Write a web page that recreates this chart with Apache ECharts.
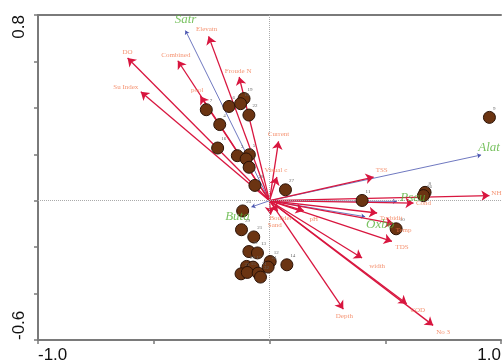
<!DOCTYPE html>
<html>
<head>
<meta charset="utf-8">
<script src="https://cdn.jsdelivr.net/npm/echarts@6/dist/echarts.min.js"></script>
<style>
  html, body { margin: 0; padding: 0; background: #fff; }
  #chart { width: 504px; height: 364px; }
</style>
</head>
<body>
<div id="chart"></div>
<script>
// environmental variables (arrow tips)
var envNames = ['DO', 'Su Index', 'Combined', 'Elevatn', 'Froude N', 'pool', 'Current', 'Visual c', 'TSS', 'NH', 'Cond',
  'Turbidit', 'Temp', 'TDS', 'width', 'pH', 'COD', 'No 3', 'Depth', 'Boulder', 'Sand'];
var envX = [-0.613, -0.556, -0.396, -0.263, -0.131, -0.299, 0.039, 0.032, 0.450, 0.950, 0.622,
  0.465, 0.536, 0.529, 0.400, 0.148, 0.593, 0.707, 0.319, 0.005, 0.036];
var envY = [0.615, 0.469, 0.603, 0.708, 0.533, 0.450, 0.256, 0.102, 0.102, 0.022, -0.010,
  -0.053, -0.099, -0.175, -0.247, -0.043, -0.444, -0.537, -0.467, -0.060, -0.046];

// species (blue arrows)
var spNames = ['Satr', 'Alat', 'Pseu', 'Oxbo', 'Buta'];
var spX = [-0.363, 0.914, 0.550, 0.413, -0.078];
var spY = [0.733, 0.197, -0.003, -0.069, -0.027];

// sites
var siteIds = ['7', '6', '19', '18', '22', '4', '16', '3', '5', '2', '1', '28', '27', '25',
  '11', '8', '26', '10', '9', '29', '21', '30', '13', '12', '24', '14', '20', '17', '23', '15', '31', '32'];
var siteX = [-0.273, -0.175, -0.110, -0.125, -0.089, -0.215, -0.224, -0.139, -0.087, -0.101, -0.088, -0.063, 0.069, -0.116,
  0.400, 0.672, 0.665, 0.547, 0.950, -0.121, -0.068, -0.089, -0.052, 0.003, -0.006, 0.075, -0.099, -0.071, -0.123, -0.096, -0.049, -0.039];
var siteY = [0.392, 0.406, 0.440, 0.418, 0.369, 0.328, 0.227, 0.194, 0.198, 0.180, 0.144, 0.066, 0.047, -0.044,
  0.001, 0.036, 0.022, -0.121, 0.359, -0.125, -0.156, -0.219, -0.225, -0.262, -0.286, -0.276, -0.283, -0.286, -0.315, -0.309, -0.312, -0.329];

// label nudges (px) relative to arrow tips
var envLabelOffset = {
  'DO': [0, -6], 'Su Index': [-15, -5], 'Combined': [-2, -6], 'Elevatn': [-2, -7], 'Froude N': [-1, -6],
  'pool': [-3, -6], 'Current': [0, -7], 'Visual c': [-1, -7], 'TSS': [8, -7], 'NH': [7, -2], 'Cond': [10, 0],
  'Turbidit': [14, 5], 'Temp': [10, 6], 'TDS': [10, 6], 'width': [15, 8], 'pH': [10, 8],
  'COD': [11, 6], 'No 3': [10, 7], 'Depth': [1, 7], 'Boulder': [10, 4], 'Sand': [-3, 14]
};
var spLabelOffset = {
  'Satr': [0, -11], 'Alat': [8, -7], 'Pseu': [16, -4], 'Oxbo': [15, 8], 'Buta': [-14, 10]
};

var chart = echarts.init(document.getElementById('chart'));

function arrowData(xs, ys) {
  return xs.map(function (x, i) {
    return { coords: [[0, 0], [x, ys[i]]] };
  });
}

function labelData(names, xs, ys, offsets) {
  return names.map(function (n, i) {
    return {
      name: n,
      value: [xs[i], ys[i]],
      label: { offset: offsets[n] || [0, 0] }
    };
  });
}

var axisColor = '#7a7a7a';

var option = {
  backgroundColor: '#fff',
  animation: false,
  grid: {
    left: 38,
    right: -1,
    top: 15,
    bottom: 24
  },
  xAxis: [{
    type: 'value',
    min: -1,
    max: 1,
    interval: 0.5,
    splitLine: { show: false },
    axisLine: { onZero: false, lineStyle: { color: axisColor, width: 2 } },
    axisTick: { show: true, length: 4, lineStyle: { color: axisColor, width: 1.5 } },
    axisLabel: {
      margin: 7,
      fontFamily: 'Liberation Sans',
      fontSize: 17,
      color: '#111',
      alignMinLabel: 'left',
      alignMaxLabel: 'right',
      formatter: function (v) {
        return Math.abs(Math.abs(v) - 1) < 1e-6 ? v.toFixed(1) : '';
      }
    }
  }, {
    type: 'value',
    position: 'top',
    min: -1,
    max: 1,
    splitLine: { show: false },
    axisLine: { onZero: false, lineStyle: { color: axisColor, width: 2 } },
    axisTick: { show: false },
    axisLabel: { show: false }
  }],
  yAxis: {
    type: 'value',
    min: -0.6,
    max: 0.8,
    interval: 0.2,
    splitLine: { show: false },
    axisLine: { onZero: false, lineStyle: { color: axisColor, width: 2 } },
    axisTick: { show: true, length: 4, lineStyle: { color: axisColor, width: 1.5 } },
    axisLabel: {
      rotate: 90,
      margin: 10,
      fontFamily: 'Liberation Sans',
      fontSize: 17,
      color: '#111',
      alignMinLabel: 'left',
      alignMaxLabel: 'right',
      formatter: function (v) {
        if (Math.abs(v - 0.8) < 1e-6 || Math.abs(v + 0.6) < 1e-6) return v.toFixed(1);
        return '';
      }
    }
  },
  series: [
    {
      // zero reference lines
      type: 'scatter',
      data: [],
      silent: true,
      markLine: {
        silent: true,
        symbol: 'none',
        label: { show: false },
        lineStyle: { type: 'dotted', color: '#aaa', width: 1 },
        data: [{ xAxis: 0 }, { yAxis: 0 }]
      }
    },
    {
      type: 'lines',
      coordinateSystem: 'cartesian2d',
      silent: true,
      symbol: ['none', 'arrow'],
      symbolSize: 4,
      lineStyle: { color: '#4a55b0', width: 0.8, opacity: 1 },
      data: arrowData(spX, spY)
    },
    {
      type: 'lines',
      coordinateSystem: 'cartesian2d',
      silent: true,
      symbol: ['none', 'arrow'],
      symbolSize: 8,
      lineStyle: { color: '#d8163f', width: 1.3, opacity: 1 },
      data: arrowData(envX, envY)
    },
    {
      name: 'sites',
      type: 'scatter',
      silent: true,
      symbolSize: 12,
      itemStyle: { color: '#6b3412', borderColor: '#2b1206', borderWidth: 1, opacity: 1 },
      label: {
        show: true,
        position: [10, -5],
        fontFamily: 'Liberation Serif',
        fontSize: 5,
        color: '#666',
        formatter: function (p) { return siteIds[p.dataIndex]; }
      },
      data: siteX.map(function (x, i) { return [x, siteY[i]]; }),
      z: 5
    },
    {
      name: 'envLabels',
      type: 'scatter',
      silent: true,
      symbolSize: 0,
      label: {
        show: true,
        position: 'inside',
        fontFamily: 'Liberation Serif',
        fontSize: 7,
        color: '#f2784f',
        formatter: '{b}'
      },
      data: labelData(envNames, envX, envY, envLabelOffset),
      z: 6
    },
    {
      name: 'spLabels',
      type: 'scatter',
      silent: true,
      symbolSize: 0,
      label: {
        show: true,
        position: 'inside',
        fontFamily: 'Liberation Serif',
        fontStyle: 'italic',
        fontSize: 13,
        color: '#58b33a',
        formatter: '{b}'
      },
      data: labelData(spNames, spX, spY, spLabelOffset),
      z: 7
    }
  ]
};

chart.setOption(option);
</script>
</body>
</html>
